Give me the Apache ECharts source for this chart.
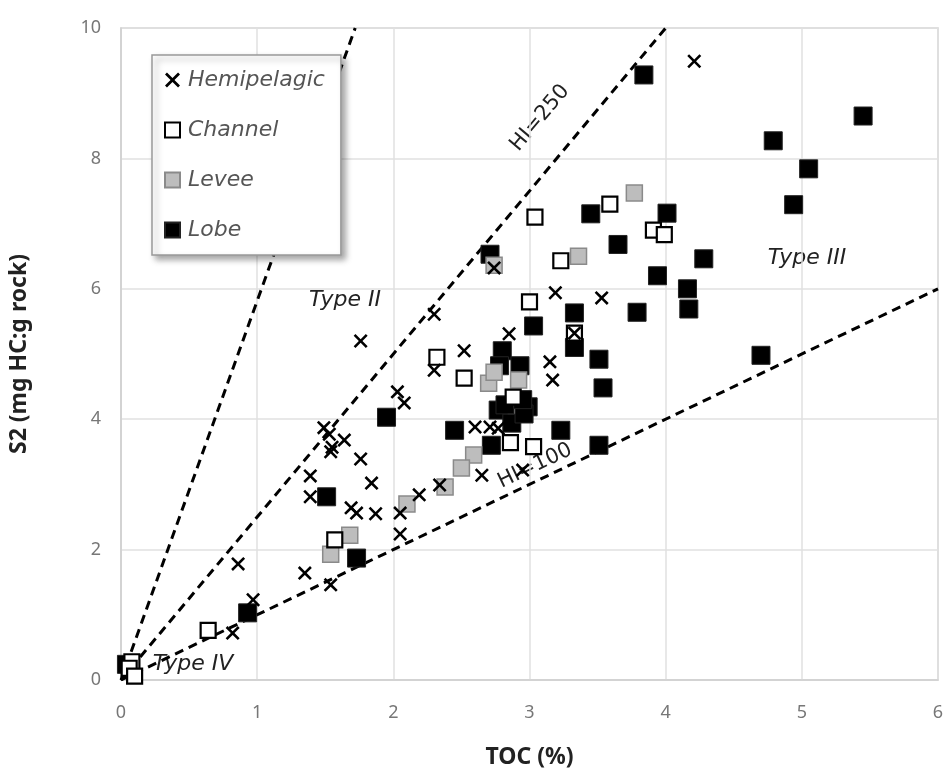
<!DOCTYPE html>
<html>
<head>
<meta charset="utf-8">
<script src="https://cdn.jsdelivr.net/npm/echarts@6/dist/echarts.min.js"></script>
<style>
  html, body { margin: 0; padding: 0; background: #fff; }
  #main { width: 951px; height: 783px; }
</style>
</head>
<body>
<div id="main"></div>
<script>
// [TOC %, S2 mg HC/g rock]
var hemipelagic = [
    [4.21, 9.49], [3.19, 5.94], [3.53, 5.86], [2.74, 6.32], [2.85, 5.31], [2.52, 5.05],
    [2.30, 4.75], [2.30, 5.61], [1.76, 5.20], [3.15, 4.88], [3.17, 4.60], [3.33, 5.32],
    [2.03, 4.42], [2.08, 4.25], [2.60, 3.88], [2.71, 3.88], [2.77, 3.86], [1.49, 3.87],
    [1.53, 3.77], [1.55, 3.57], [1.64, 3.68], [1.54, 3.50], [1.76, 3.39], [1.39, 3.13],
    [1.84, 3.02], [1.39, 2.81], [1.69, 2.64], [1.73, 2.56], [1.87, 2.55], [2.19, 2.84],
    [2.05, 2.56], [2.05, 2.24], [2.34, 2.99], [2.65, 3.14], [2.95, 3.22], [1.35, 1.64],
    [1.54, 1.46], [0.86, 1.78], [0.97, 1.23], [0.82, 0.72]
];
var channel = [
    [3.04, 7.10], [3.59, 7.30], [3.91, 6.90], [3.99, 6.83], [3.23, 6.43], [3.00, 5.80],
    [3.33, 5.32], [2.32, 4.95], [2.52, 4.63], [2.88, 4.34], [2.86, 3.64], [3.03, 3.58],
    [1.57, 2.15], [0.64, 0.76], [0.08, 0.28], [0.06, 0.18], [0.10, 0.06]
];
var levee = [
    [3.77, 7.47], [3.36, 6.50], [2.74, 6.36], [2.70, 4.55], [2.74, 4.72], [2.92, 4.60],
    [2.59, 3.45], [2.50, 3.25], [2.38, 2.96], [2.10, 2.70], [1.68, 2.22], [1.54, 1.93]
];
var lobe = [
    [3.84, 9.28], [5.45, 8.65], [4.79, 8.27], [5.05, 7.84], [4.94, 7.29], [3.45, 7.15],
    [4.01, 7.16], [3.65, 6.68], [4.28, 6.46], [3.94, 6.20], [4.16, 6.00], [4.17, 5.69],
    [3.79, 5.64], [3.33, 5.63], [3.03, 5.43], [3.33, 5.10], [4.70, 4.98], [2.71, 6.53],
    [3.51, 4.92], [3.54, 4.48], [2.80, 5.05], [2.78, 4.82], [2.93, 4.82], [2.77, 4.14],
    [2.99, 4.19], [2.87, 3.94], [2.96, 4.08], [2.82, 4.22], [2.95, 4.30], [2.45, 3.83],
    [3.23, 3.83], [2.72, 3.60], [3.51, 3.60], [1.95, 4.03], [1.51, 2.81], [1.73, 1.87],
    [0.93, 1.03], [0.04, 0.24]
];
// kerogen type boundary lines
var lineSteep = [[0, 0], [1.72, 10]];
var lineHI250 = [[0, 0], [4, 10]];
var lineHI100 = [[0, 0], [6, 6]];

var xTicks = [0, 1, 2, 3, 4, 5, 6];
var yTicks = [0, 2, 4, 6, 8, 10];

var crossPath = 'path://M0,1.3L1.3,0L5,3.7L8.7,0L10,1.3L6.3,5L10,8.7L8.7,10L5,6.3L1.3,10L0,8.7L3.7,5Z';

var myChart = echarts.init(document.getElementById('main'));

function dashed(data) {
    return {
        type: 'line',
        data: data,
        symbol: 'none',
        silent: true,
        z: 1,
        lineStyle: {color: '#000', width: 3, type: [9, 6]}
    };
}

var italic = {fontFamily: 'DejaVu Sans', fontStyle: 'italic', fontSize: 22, fill: '#222'};

myChart.setOption({
    backgroundColor: '#fff',
    animation: false,
    grid: {
        left: 118, right: 13, top: 28, bottom: 103,
        show: true, borderColor: '#cfcfcf', borderWidth: 1.5
    },
    legend: {
        left: 152, top: 55, z: 20,
        orient: 'vertical',
        data: ['Hemipelagic', 'Channel', 'Levee', 'Lobe'],
        itemWidth: 15, itemHeight: 15, itemGap: 28,
        padding: [14, 16, 14, 12],
        backgroundColor: '#fff',
        borderColor: '#999', borderWidth: 1.5,
        shadowBlur: 6, shadowColor: 'rgba(0,0,0,0.35)',
        shadowOffsetX: 4, shadowOffsetY: 4,
        textStyle: {fontFamily: 'DejaVu Sans', fontStyle: 'italic', fontSize: 22, lineHeight: 22,
                    color: '#555', padding: [0, 0, 0, 3]}
    },
    xAxis: {
        type: 'value', min: 0, max: 6, interval: 1,
        name: 'TOC (%)', nameLocation: 'middle', nameGap: 66,
        nameTextStyle: {fontFamily: 'Noto Sans', fontWeight: 'bold', fontSize: 23, color: '#222'},
        axisLine: {show: true, lineStyle: {color: '#cfcfcf', width: 1.5}},
        axisTick: {show: false},
        axisLabel: {
            margin: 24, fontFamily: 'Noto Sans', fontSize: 18, color: '#777',
            formatter: function (v) { return xTicks.indexOf(v) >= 0 ? String(v) : ''; }
        },
        splitLine: {lineStyle: {color: '#e0e0e0', width: 1.5}}
    },
    yAxis: {
        type: 'value', min: 0, max: 10, interval: 2,
        name: 'S2 (mg HC:g rock)', nameLocation: 'middle', nameGap: 90,
        nameTextStyle: {fontFamily: 'Noto Sans', fontWeight: 'bold', fontSize: 23, color: '#222'},
        axisLine: {show: true, lineStyle: {color: '#cfcfcf', width: 1.5}},
        axisTick: {show: false},
        axisLabel: {
            margin: 20, fontFamily: 'Noto Sans', fontSize: 18, color: '#777',
            formatter: function (v) { return yTicks.indexOf(v) >= 0 ? String(v) : ''; }
        },
        splitLine: {lineStyle: {color: '#e0e0e0', width: 1.5}}
    },
    series: [
        dashed(lineSteep),
        dashed(lineHI250),
        dashed(lineHI100),
        {
            name: 'Lobe', type: 'scatter', data: lobe, z: 2,
            symbol: 'rect', symbolSize: 18,
            itemStyle: {color: '#000', borderColor: '#222', borderWidth: 1, opacity: 1}
        },
        {
            name: 'Levee', type: 'scatter', data: levee, z: 3,
            symbol: 'rect', symbolSize: 16,
            itemStyle: {color: '#bdbdbd', borderColor: '#8a8a8a', borderWidth: 1.5, opacity: 1}
        },
        {
            name: 'Channel', type: 'scatter', data: channel, z: 4,
            symbol: 'rect', symbolSize: 15,
            itemStyle: {color: '#fff', borderColor: '#000', borderWidth: 2.2, opacity: 1}
        },
        {
            name: 'Hemipelagic', type: 'scatter', data: hemipelagic, z: 5,
            symbol: crossPath, symbolSize: 14,
            itemStyle: {color: '#000', opacity: 1}
        }
    ],
    graphic: [
        {type: 'text', x: 540, y: 118, rotation: 50 * Math.PI / 180,
         style: {text: 'HI=250', fontFamily: 'DejaVu Sans', fontSize: 21, fill: '#222', align: 'center', verticalAlign: 'middle'}},
        {type: 'text', x: 535, y: 466, rotation: 25.5 * Math.PI / 180,
         style: {text: 'HI=100', fontFamily: 'DejaVu Sans', fontSize: 21, fill: '#222', align: 'center', verticalAlign: 'middle'}},
        {type: 'text', x: 345, y: 300,
         style: Object.assign({text: 'Type II', align: 'center', verticalAlign: 'middle'}, italic)},
        {type: 'text', x: 807, y: 258,
         style: Object.assign({text: 'Type III', align: 'center', verticalAlign: 'middle'}, italic)},
        {type: 'text', x: 193, y: 664,
         style: Object.assign({text: 'Type IV', align: 'center', verticalAlign: 'middle'}, italic)}
    ]
});
</script>
</body>
</html>
